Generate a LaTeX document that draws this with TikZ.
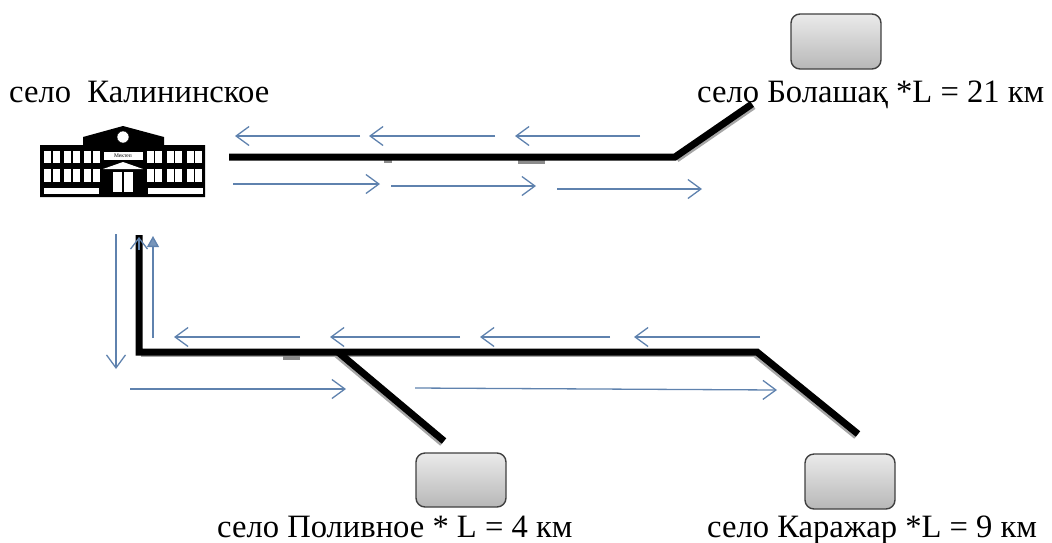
\documentclass[tikz,border=0pt]{standalone}
\usepackage{fontspec}
\setmainfont{Liberation Serif}
\usepackage{tikz}
\usetikzlibrary{arrows.meta}
\definecolor{flowblue}{HTML}{5F82AE}
\tikzset{
    flowline/.style={draw=flowblue, line width=1.3pt, -{Straight Barb[length=13pt,width=19pt,line width=1.3pt]}},
    roadline/.style={draw=black, line width=7pt, line join=miter},
    roadshade/.style={draw=black!35, line width=7pt},
    villagebox/.style={draw=black!75, line width=1.4pt, rounded corners=9pt, top color=black!8, bottom color=black!28},
    placename/.style={font=\fontsize{32.6}{36}\selectfont, inner sep=0pt, anchor=base west}
}
% one flow arrow: name, start x y, end x y
\newcommand{\flow}[5]{\coordinate (#1a) at (#2,#3); \coordinate (#1b) at (#4,#5); \draw[flowline] (#1a) -- (#1b);}
\newcommand{\pane}[4]{\fill[white] (#1,#2) rectangle (#3,#4); \draw[black, line width=1.2pt] ({(#1+#3)/2},#2) -- ({(#1+#3)/2},#4);}
\begin{document}
\begin{tikzpicture}[x=1pt, y=-1pt]
    \useasboundingbox (0,0) rectangle (1052,542);
    % labels
    \node[placename] (kalin) at (9,102) {село\ \ Калининское};
    \node[placename] (bolash) at (697,102) {село Болашақ *L = 21 км};
    \node[placename] (poliv) at (217,537) {село Поливное * L = 4 км};
    \node[placename] (karaj) at (707,537) {село Каражар *L = 9 км};
    % boxes
    \node[villagebox, minimum width=90pt, minimum height=55pt] (boxbol) at (836,41.5) {};
    \node[villagebox, minimum width=90pt, minimum height=54pt] (boxpol) at (461,480) {};
    \node[villagebox, minimum width=90pt, minimum height=55pt] (boxkar) at (850,481.5) {};
    % school
    \fill[black] (40,145) -- (83,145) -- (83,137) -- (123,126) -- (164,137) -- (164,145) -- (205,145)
        -- (205,197) -- (40,197) -- cycle;
    \pane{44}{151}{60}{163} \pane{64}{151}{80}{163} \pane{84}{151}{100}{163}
    \pane{44}{169}{60}{182} \pane{64}{169}{80}{182} \pane{84}{169}{100}{182}
    \pane{147}{151}{162}{163} \pane{167}{151}{182}{163} \pane{187}{151}{202}{163}
    \pane{147}{169}{162}{182} \pane{167}{169}{182}{182} \pane{187}{169}{202}{182}
    \fill[white] (44,188) rectangle (99,194);
    \fill[white] (148,188) rectangle (203,194);
    \pane{113}{172}{133}{192}
    \fill[white] (103,169) -- (123,162) -- (143,169) -- cycle;
    \node[fill=white, inner sep=0pt, minimum width=39pt, minimum height=8pt, font=\fontsize{5.5}{6}\selectfont] (sign) at (123,156) {Мектеп};
    \node[circle, fill=white, draw=black, inner sep=0pt, minimum size=12pt] (clock) at (123,137) {};
    % road to the north-east
    \coordinate (ra) at (229,157);
    \coordinate (rb) at (675,157);
    \coordinate (rc) at (752,104);
    % road to the south
    \coordinate (sa) at (139,235);
    \coordinate (sb) at (139,352);
    \coordinate (sc) at (757,352);
    \coordinate (sd) at (858,434);
    \coordinate (se) at (338,352);
    \coordinate (sf) at (444,441);
    % shades under the roads
    \draw[roadshade] ([shift={(1.5pt,-2pt)}]rb) -- ([shift={(1.5pt,-2pt)}]rc);
    \draw[roadshade] ([shift={(1.5pt,-1.5pt)}]sb) -- ([shift={(1.5pt,-1.5pt)}]sc);
    \draw[roadshade] ([shift={(-1.5pt,-2pt)}]sc) -- ([shift={(-1.5pt,-2pt)}]sd);
    \draw[roadshade] ([shift={(-1.5pt,-2pt)}]se) -- ([shift={(-1.5pt,-2pt)}]sf);
    \fill[black!45] (384,157) rectangle (392,163);
    \fill[black!45] (518,157) rectangle (545,164);
    \fill[black!45] (283,352) rectangle (300,360);
    \draw[roadline] (ra) -- (rb) -- (rc);
    \draw[roadline] (sa) -- (sb) -- (sc) -- (sd);
    \draw[roadline] (se) -- (sf);
    % upper flows
    \flow{ua}{360}{136}{235}{136}
    \flow{ub}{495}{136}{369}{136}
    \flow{uc}{640}{136}{515}{136}
    \flow{ud}{233}{184}{380}{184}
    \flow{ue}{391}{186}{536}{186}
    \flow{uf}{557}{189}{702}{189}
    % lower flows
    \flow{la}{300}{337}{174}{337}
    \flow{lb}{460}{337}{330}{337}
    \flow{lc}{610}{337}{480}{337}
    \flow{ld}{760}{337}{634}{337}
    \flow{le}{130}{389}{346}{389}
    \flow{lf}{415}{388}{777}{390}
    % vertical flows
    \flow{va}{116}{234}{116}{369}
    \coordinate (vba) at (153,338);
    \coordinate (vbb) at (153,236);
    \draw[draw=flowblue, line width=1.3pt, -{Triangle[length=11pt,width=12pt,fill=flowblue!85]}] (vba) -- (vbb);
    \coordinate (vca) at (139,250);
    \coordinate (vcb) at (139,237);
    \draw[flowline, -{Straight Barb[length=11pt,width=17pt,line width=1.3pt]}] (vca) -- (vcb);
\end{tikzpicture}
\end{document}
